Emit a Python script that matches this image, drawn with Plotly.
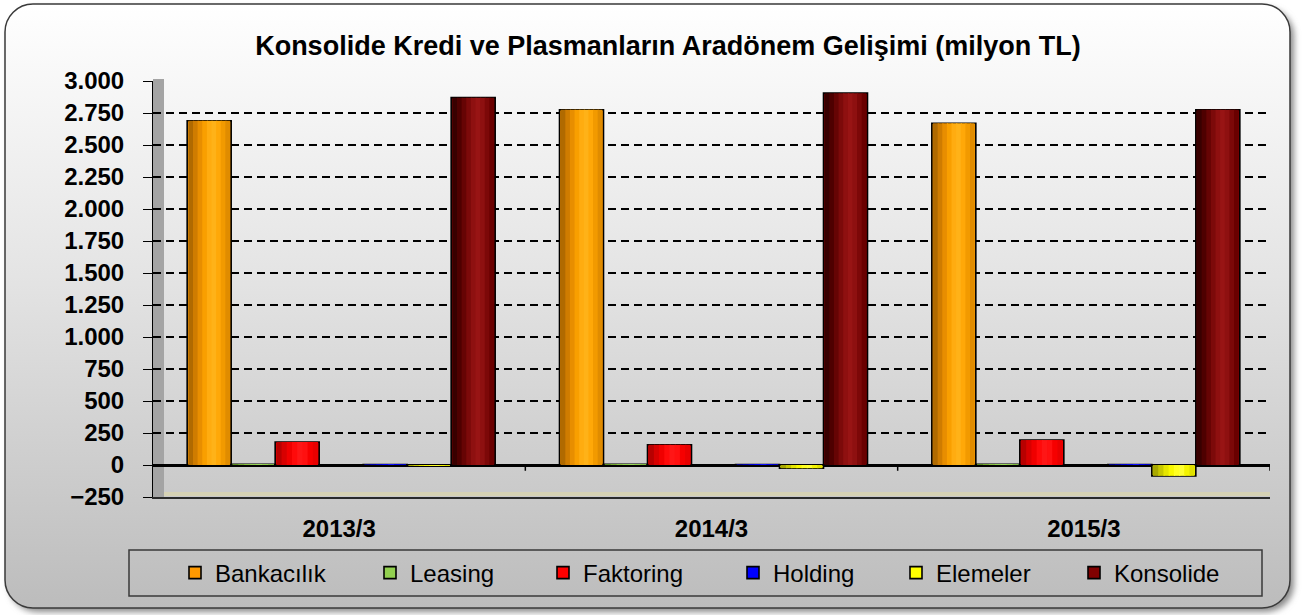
import base64
import plotly.graph_objects as go

# ---------------- data ----------------
categories = ["2013/3", "2014/3", "2015/3"]
series_names = ["Bankacılık", "Leasing", "Faktoring", "Holding", "Elemeler", "Konsolide"]
bankacilik = [2690, 2775, 2670]
leasing = [6, 5, 6]
faktoring = [180, 158, 195]
holding = [4, 3, 3]
elemeler = [-5, -25, -85]
konsolide = [2870, 2905, 2775]
y_ticks = list(range(-250, 3001, 250))

# ---------------- geometry helpers ----------------
W, H = 1306, 615
ML, MR, MT, MB = 153, 36, 81, 118
PW, PH = W - ML - MR, H - MT - MB


def px(x):
    return (x - ML) / PW


def py(y):
    return (H - MB - y) / PH


CAT_PX = PW / len(categories)
SLOT = 44 / CAT_PX
START = -152 / CAT_PX
INSET = 1.2 / CAT_PX

FONT = "Arial, Liberation Sans, sans-serif"

styles = [
    # name, values, slot, legend colour, shading strips (left -> right)
    ("Bankacılık", bankacilik, 0, "#ff9900",
     ["#b06a00", "#cf7c00", "#e88e00", "#f99f00", "#ffac10", "#ffb218", "#ffa808", "#f29a00", "#e08c00"]),
    ("Leasing", leasing, 1, "#92d050",
     ["#5a8a20", "#74a830", "#88c040", "#92d050", "#9ad858", "#90cc4c", "#80b840"]),
    ("Faktoring", faktoring, 2, "#ff0000",
     ["#b80000", "#d80000", "#f00000", "#ff0a0a", "#ff1616", "#ff1010", "#f60000", "#e80000"]),
    ("Holding", holding, 4, "#0000ff",
     ["#000080", "#0000a8", "#0000d0", "#0000f0", "#1010ff", "#0000e8", "#0000c8"]),
    ("Elemeler", elemeler, 5, "#ffff00",
     ["#a8a800", "#c8c800", "#e6e600", "#f8f800", "#ffff20", "#ffff30", "#f4f400", "#e0e000"]),
    ("Konsolide", konsolide, 6, "#800000",
     ["#380000", "#4e0000", "#660404", "#7c0a0a", "#8e1010", "#981414", "#8e1010", "#7c0808", "#6a0000"]),
]

icon_left_px = [193, 388, 561, 751, 914, 1092]

fig = go.Figure()
for i, (name, vals, slot_idx, col, shades) in enumerate(styles):
    leg = "legend" if i == 0 else f"legend{i + 1}"
    off = START + slot_idx * SLOT
    fig.add_trace(go.Bar(
        x=categories, y=vals, name=name, legend=leg, legendgroup=name,
        offset=off, width=SLOT,
        marker=dict(color=col, line=dict(color="#000000", width=1.6)),
        hovertemplate=name + ": %{y}<extra></extra>",
    ))
    inner = SLOT - 2 * INSET
    n = len(shades)
    sw = inner / n
    for k, sc in enumerate(shades):
        wk = sw * 1.25 if k < n - 1 else sw
        fig.add_trace(go.Bar(
            x=categories, y=vals, legendgroup=name, showlegend=False,
            offset=off + INSET + k * sw, width=wk,
            marker=dict(color=sc, line=dict(width=0)),
            hoverinfo="skip",
        ))

# ---------------- background (rounded panel with gradient and shadow) ----------------
svg = f"""<svg xmlns='http://www.w3.org/2000/svg' width='{W}' height='{H}' viewBox='0 0 {W} {H}'>
<defs>
<linearGradient id='g' x1='0' y1='0' x2='0' y2='1'>
<stop offset='0' stop-color='#ffffff'/>
<stop offset='0.45' stop-color='#e4e4e4'/>
<stop offset='1' stop-color='#bcbcbc'/>
</linearGradient>
<filter id='s' x='-5%' y='-5%' width='110%' height='110%'><feGaussianBlur stdDeviation='3'/></filter>
</defs>
<rect x='9' y='8' width='1285' height='604' rx='28' ry='28' fill='#8a8a8a' filter='url(#s)'/>
<rect x='5' y='4' width='1285' height='604' rx='28' ry='28' fill='url(#g)' stroke='#3a3a3a' stroke-width='1.5'/>
<rect x='{ML}' y='{MT - 2}' width='11' height='{H - MB - MT + 2}' fill='#a4a4a4'/>
<rect x='{ML + 11}' y='{H - MB - 5}' width='{PW - 11}' height='4' fill='#d6d2b4'/>
</svg>"""
src = "data:image/svg+xml;base64," + base64.b64encode(svg.encode("utf-8")).decode("ascii")

shapes = []
# legend frame
shapes.append(dict(type="rect", xref="paper", yref="paper",
                   x0=px(129), x1=px(1262), y0=py(596), y1=py(550),
                   line=dict(color="#3a3a3a", width=1.5), fillcolor="rgba(0,0,0,0)", layer="above"))
# category boundary ticks on the zero line
for b in [0.5, 1.5, 2.5]:
    shapes.append(dict(type="line", xref="x", yref="y", x0=b, x1=b, y0=0, y1=-45,
                       line=dict(color="#000000", width=1.5), layer="above"))

legends = {}
for i, xl in enumerate(icon_left_px):
    key = "legend" if i == 0 else f"legend{i + 1}"
    legends[key] = dict(
        x=px(xl - 18), xanchor="left", y=py(573), yanchor="middle",
        orientation="h", bgcolor="rgba(0,0,0,0)", borderwidth=0,
        font=dict(family=FONT, size=24, color="#000000"),
        itemclick=False, itemdoubleclick=False,
    )

fig.update_layout(
    width=W, height=H,
    margin=dict(l=ML, r=MR, t=MT, b=MB, autoexpand=False),
    paper_bgcolor="#ffffff", plot_bgcolor="rgba(0,0,0,0)",
    barmode="overlay",
    separators=",.",
    showlegend=True,
    title=dict(text="<b>Konsolide Kredi ve Plasmanların Aradönem Gelişimi (milyon TL)</b>",
               x=668 / W, xref="container", xanchor="center",
               y=1 - 46 / H, yref="container", yanchor="middle",
               font=dict(family=FONT, size=27, color="#000000")),
    images=[dict(source=src, xref="paper", yref="paper", x=px(0), y=py(0),
                 sizex=W / PW, sizey=H / PH, sizing="stretch", xanchor="left", yanchor="top",
                 layer="below")],
    shapes=shapes,
    xaxis=dict(type="category", range=[-0.5, 2.5], showgrid=False, zeroline=False,
               showline=True, linecolor="#2a2a2a", linewidth=2, ticks="",
               tickfont=dict(family=FONT, size=24, color="#000000", weight="bold"),
               ticklabelstandoff=9, fixedrange=True),
    yaxis=dict(range=[-250, 3000], tickvals=y_ticks, tickformat=",d",
               showgrid=True, gridcolor="#000000", gridwidth=2, griddash="8px,5px",
               zeroline=True, zerolinecolor="#000000", zerolinewidth=3,
               showline=True, linecolor="#000000", linewidth=1,
               ticks="outside", ticklen=9, tickcolor="#000000", tickwidth=1,
               ticklabelstandoff=14,
               tickfont=dict(family=FONT, size=24, color="#000000", weight="bold"),
               fixedrange=True),
    **legends,
)

fig.write_html("out.html",
               config={"displayModeBar": False},
               post_script="document.body.style.margin='0px';document.body.style.overflow='hidden';")
